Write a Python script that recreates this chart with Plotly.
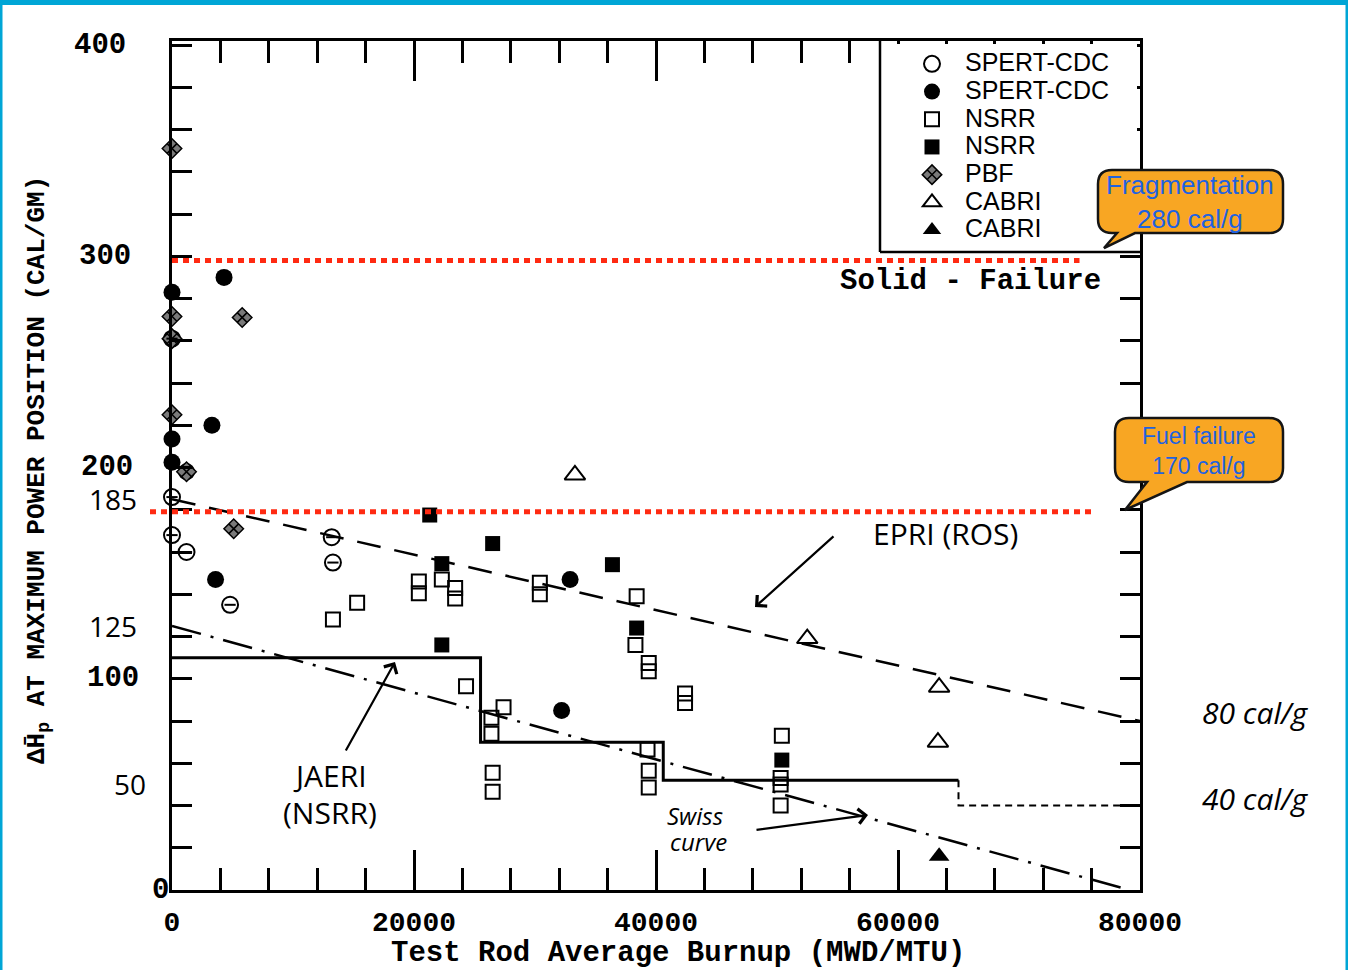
import plotly.graph_objects as go

# ---------------- data ----------------
SPERT_OPEN_X = [0, 0, 1200, 4800, 13200, 13300, 0]
SPERT_OPEN_Y = [186, 168, 160, 135, 167, 155, 261]
SPERT_FILL_X = [4300, 0, 3300, 0, 0, 1200, 3600, 32900, 32200]
SPERT_FILL_Y = [290, 283, 220, 213.5, 202.5, 198, 147, 147, 85]
NSRR_OPEN_X = [13300, 15300, 20400, 20400, 22300, 23400, 23400, 30400, 30400, 38400,
               38300, 39400, 39400, 42400, 42400, 24300, 27400, 26400, 26400, 26500,
               26500, 39300, 39400, 39400, 50400, 50300, 50300, 50300]
NSRR_OPEN_Y = [128, 136, 146, 140.5, 147, 143, 138, 145.5, 140, 139,
               116, 107.5, 103.5, 93, 88.5, 96.5, 86.5, 81.5, 74, 55.5,
               46.5, 66.5, 56.5, 48.5, 73, 53, 50, 40]
NSRR_FILL_X = [21300, 26500, 22300, 36400, 38400, 22300, 50400]
NSRR_FILL_Y = [177.5, 164, 154.5, 154, 124, 116, 61.5]
PBF_X = [0, 0, 5800, 0, 0, 1200, 5100]
PBF_Y = [351, 271.5, 271, 261, 225, 198, 171]
CABRI_OPEN_X = [33300, 52500, 63400, 63300]
CABRI_OPEN_Y = [196.5, 119, 96, 70]
CABRI_FILL_X = [63400]
CABRI_FILL_Y = [16]

EPRI_X = [0, 80000]
EPRI_Y = [185, 80]
SWISS_X = [0, 78500]
SWISS_Y = [125, 1]
JAERI_X = [0, 25500, 25500, 40600, 40600, 65000]
JAERI_Y = [110, 110, 70, 70, 52, 52]
JAERI_EXT_X = [65000, 65000, 80000]
JAERI_EXT_Y = [52, 40, 40]

FRAG_Y = 298
FAIL_Y = 179

Y_LABELS = ["400", "300", "200", "185", "125", "100", "50", "0"]
Y_LABEL_VALS = [400, 300, 200, 185, 125, 100, 50, 0]
X_TICKS = [0, 20000, 40000, 60000, 80000]

# ---------------- layout geometry ----------------
W, H = 1348, 970
L, R, T, B = 172, 1140, 41, 890


def pp(px, py):
    return (px - L) / (R - L), (B - py) / (B - T)


MONO = "Liberation Mono"
SANS = "Liberation Sans"
HAND = "Open Sans"


def leg(name):
    return f"<span style='font-size:25px'>{name}</span>"


fig = go.Figure()

# lines
fig.add_trace(go.Scatter(x=EPRI_X, y=EPRI_Y, mode="lines", showlegend=False,
                         line=dict(color="black", width=2.5, dash="24px,14px")))
fig.add_trace(go.Scatter(x=SWISS_X, y=SWISS_Y, mode="lines", showlegend=False,
                         line=dict(color="black", width=2.5, dash="30px,10px,3px,10px")))
fig.add_trace(go.Scatter(x=JAERI_X, y=JAERI_Y, mode="lines", showlegend=False,
                         line=dict(color="black", width=3)))
fig.add_trace(go.Scatter(x=JAERI_EXT_X, y=JAERI_EXT_Y, mode="lines", showlegend=False,
                         line=dict(color="black", width=2, dash="7px,5px")))

mk = dict(cliponaxis=False, mode="markers")
fig.add_trace(go.Scatter(x=SPERT_OPEN_X, y=SPERT_OPEN_Y, name=leg("SPERT-CDC"),
                         marker=dict(symbol="circle-open", size=16, color="black",
                                     line=dict(width=2)), **mk))
fig.add_trace(go.Scatter(x=SPERT_FILL_X, y=SPERT_FILL_Y, name=leg("SPERT-CDC"),
                         marker=dict(symbol="circle", size=17, color="black"), **mk))
fig.add_trace(go.Scatter(x=NSRR_OPEN_X, y=NSRR_OPEN_Y, name=leg("NSRR"),
                         marker=dict(symbol="square-open", size=14, color="black",
                                     line=dict(width=2)), **mk))
fig.add_trace(go.Scatter(x=NSRR_FILL_X, y=NSRR_FILL_Y, name=leg("NSRR"),
                         marker=dict(symbol="square", size=15, color="black"), **mk))
fig.add_trace(go.Scatter(x=PBF_X, y=PBF_Y, name=leg("PBF"),
                         marker=dict(symbol="diamond-x", size=15, color="#7a7a7a",
                                     line=dict(width=1.5, color="black")), **mk))
fig.add_trace(go.Scatter(x=CABRI_OPEN_X, y=CABRI_OPEN_Y, name=leg("CABRI"),
                         marker=dict(symbol="triangle-up-open", size=18, color="black",
                                     line=dict(width=2)), **mk))
fig.add_trace(go.Scatter(x=CABRI_FILL_X, y=CABRI_FILL_Y, name=leg("CABRI"),
                         marker=dict(symbol="triangle-up", size=18, color="black"), **mk))
# bar inside the open SPERT circles
fig.add_trace(go.Scatter(x=SPERT_OPEN_X, y=SPERT_OPEN_Y, showlegend=False, hoverinfo="skip",
                         marker=dict(symbol="line-ew-open", size=8, color="black",
                                     line=dict(width=2, color="black")), **mk))

shapes = []
# white panel behind the legend (hides the axis ticks inside the legend box)
m0 = pp(883, 44)
m1 = pp(1137, 249)
shapes.append(dict(type="rect", xref="paper", yref="paper", x0=m0[0], y0=m0[1],
                   x1=m1[0], y1=m1[1], fillcolor="white", line=dict(width=0), layer="above"))

red = "#ff2a12"
# red dotted criteria lines
shapes.append(dict(type="line", xref="x", yref="y", x0=0, x1=75000, y0=FRAG_Y, y1=FRAG_Y,
                   line=dict(color=red, width=5, dash="6px,5px")))
x0p, _ = pp(150, 0)
x1p, _ = pp(1095, 0)
shapes.append(dict(type="line", xref="paper", yref="y", x0=x0p, x1=x1p, y0=FAIL_Y, y1=FAIL_Y,
                   line=dict(color=red, width=5, dash="6px,5px")))
# legend box lines
a = pp(880, T - 2)
b = pp(880, 252)
c = pp(R, 252)
shapes.append(dict(type="line", xref="paper", yref="paper", x0=a[0], y0=a[1], x1=b[0], y1=b[1],
                   line=dict(color="black", width=2.5)))
shapes.append(dict(type="line", xref="paper", yref="paper", x0=b[0], y0=b[1], x1=c[0], y1=c[1],
                   line=dict(color="black", width=2.5)))


def bubble(x0, y0, x1, y1, tl, tr, tip, r=14):
    def P(px, py):
        X, Y = pp(px, py)
        return f"{X:.5f},{Y:.5f}"
    path = (f"M{P(x0 + r, y0)} L{P(x1 - r, y0)} Q{P(x1, y0)} {P(x1, y0 + r)} "
            f"L{P(x1, y1 - r)} Q{P(x1, y1)} {P(x1 - r, y1)} L{P(tr, y1)} L{P(*tip)} "
            f"L{P(tl, y1)} L{P(x0 + r, y1)} Q{P(x0, y1)} {P(x0, y1 - r)} "
            f"L{P(x0, y0 + r)} Q{P(x0, y0)} {P(x0 + r, y0)} Z")
    return dict(type="path", xref="paper", yref="paper", path=path,
                fillcolor="#f8a623", line=dict(color="#151515", width=2.5), layer="above")


shapes.append(bubble(1098, 170, 1283, 233, 1117, 1135, (1104, 248)))
shapes.append(bubble(1115, 418, 1283, 482, 1147, 1187, (1125, 510)))

# blue frame of the slide
blue = "#00a6d6"
shapes.append(dict(type="rect", xref="paper", yref="paper",
                   x0=pp(0, 0)[0], x1=pp(W, 0)[0], y0=pp(0, 5)[1], y1=pp(0, 0)[1],
                   fillcolor=blue, line=dict(width=0)))
shapes.append(dict(type="rect", xref="paper", yref="paper",
                   x0=pp(0, 0)[0], x1=pp(2.5, 0)[0], y0=pp(0, H)[1], y1=pp(0, 0)[1],
                   fillcolor=blue, line=dict(width=0)))
shapes.append(dict(type="rect", xref="paper", yref="paper",
                   x0=pp(W - 2.5, 0)[0], x1=pp(W, 0)[0], y0=pp(0, H)[1], y1=pp(0, 0)[1],
                   fillcolor=blue, line=dict(width=0)))

ann = []


def text(px, py, s, size, family, color="black", weight="normal", angle=0, italic=False):
    X, Y = pp(px, py)
    ann.append(dict(x=X, y=Y, xref="paper", yref="paper", text=s, showarrow=False,
                    xanchor="center", yanchor="middle", textangle=angle,
                    font=dict(size=size, family=family, color=color, weight=weight,
                              style="italic" if italic else "normal")))


# y tick labels
y_label_px = {"400": 100, "300": 105, "200": 107, "185": 113, "125": 113, "100": 113,
              "50": 130, "0": 160}
hand_labels = {"185", "125", "50"}
for lab, val in zip(Y_LABELS, Y_LABEL_VALS):
    X, _ = pp(y_label_px[lab], 0)
    hand = lab in hand_labels
    ann.append(dict(x=X, y=val, xref="paper", yref="y", text=lab, showarrow=False,
                    xanchor="center", yanchor="middle",
                    font=dict(size=29 if not hand else 28, family=MONO if not hand else HAND,
                              weight="bold" if not hand else "normal", color="black")))

# axis titles
text(38, 470, "ΔH\u0304<sub>p</sub> AT MAXIMUM POWER POSITION (CAL/GM)", 26, MONO,
     weight="bold", angle=-90)
text(678, 953, "Test Rod Average Burnup (MWD/MTU)", 29, MONO, weight="bold")
text(970, 281, "Solid - Failure", 29, MONO, weight="bold")

# handwritten notes
text(945, 533, "EPRI (ROS)", 30, HAND)
text(330, 775, "JAERI", 30, HAND)
text(330, 812, "(NSRR)", 30, HAND)
text(695, 815, "Swiss", 24, HAND, italic=True)
text(698, 841, "curve", 24, HAND, italic=True)
text(1255, 712, "80 cal/g", 30, HAND, italic=True)
text(1255, 798, "40 cal/g", 30, HAND, italic=True)

# callout texts
callblue = "#1f62e0"
text(1190, 202, "Fragmentation<br>280 cal/g", 26, SANS, color=callblue)
text(1199, 451, "Fuel failure<br>170 cal/g", 23, SANS, color=callblue)


def arrow(hx, hy, tx, ty):
    X, Y = pp(hx, hy)
    ann.append(dict(x=X, y=Y, xref="paper", yref="paper", text="", showarrow=True,
                    ax=tx - hx, ay=ty - hy, arrowhead=4, arrowsize=1.3, arrowwidth=2.2,
                    arrowcolor="black"))


arrow(755, 607, 835, 535)
arrow(395, 662, 345, 752)
arrow(868, 815, 755, 830)

fig.update_layout(
    width=W, height=H,
    margin=dict(l=L, r=W - R, t=T, b=H - B, pad=0),
    paper_bgcolor="white", plot_bgcolor="white",
    shapes=shapes, annotations=ann,
    legend=dict(x=pp(899, 0)[0], y=pp(0, 45)[1], xanchor="left", yanchor="top",
                bgcolor="rgba(0,0,0,0)", font=dict(size=19, family=SANS, color="black"),
                itemwidth=56),
    showlegend=True,
)
fig.update_xaxes(range=[0, 80000], tickvals=X_TICKS, ticktext=[str(v) for v in X_TICKS],
                 ticks="inside", ticklen=40, tickwidth=2.5, tickcolor="black",
                 minor=dict(dtick=4000, ticks="inside", ticklen=22, tickwidth=2.5,
                            tickcolor="black"),
                 showline=True, linecolor="black", linewidth=3, mirror="allticks",
                 showgrid=False, zeroline=False, ticklabelstandoff=4,
                 tickfont=dict(size=28, family=MONO, weight="bold", color="black"))
fig.update_yaxes(range=[0, (B - T) / 2.1125], dtick=20, tick0=0,
                 ticks="inside", ticklen=20, tickwidth=2.5, tickcolor="black",
                 showticklabels=False,
                 showline=True, linecolor="black", linewidth=3, mirror="allticks",
                 showgrid=False, zeroline=False)

fig.write_html("out.html", config={"displayModeBar": False},
               post_script="document.body.style.margin='0';document.body.style.overflow='hidden';")
